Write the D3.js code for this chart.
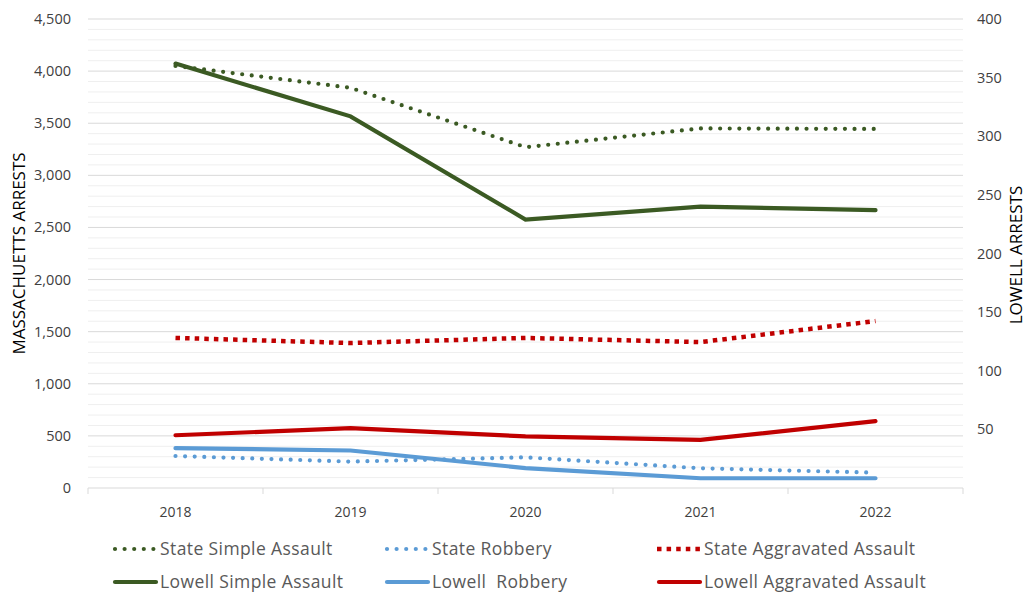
<!DOCTYPE html>
<html>
<head>
<meta charset="utf-8">
<script src="https://cdn.jsdelivr.net/npm/d3@7"></script>
<style>
  body { margin: 0; background: #fff; }
  text { font-family: "Open Sans", "Liberation Sans", sans-serif; }
</style>
</head>
<body>
<svg id="chart" width="1028" height="596"></svg>
<script>
// Data
var years = ["2018", "2019", "2020", "2021", "2022"];
var stateSimple = [4050, 3840, 3270, 3450, 3445];
var stateRobbery = [307, 253, 294, 189, 147];
var stateAggravated = [1440, 1391, 1440, 1400, 1602];
var lowellSimple = [362, 317, 229, 240, 237];
var lowellRobbery = [34, 32, 17, 8.3, 8.3];
var lowellAggravated = [45, 51, 44, 41, 57];
var leftTicks = [0, 500, 1000, 1500, 2000, 2500, 3000, 3500, 4000, 4500];
var rightTicks = [50, 100, 150, 200, 250, 300, 350, 400];

var svg = d3.select("#chart");
// plot area edges (note: "top" is reserved on window)
var plotLeft = 88, plotRight = 963, plotTop = 19, plotBottom = 488;

var x = d3.scaleBand().domain(years).range([plotLeft, plotRight]);
var yL = d3.scaleLinear().domain([0, 4500]).range([plotBottom, plotTop]);
var yR = d3.scaleLinear().domain([0, 400]).range([plotBottom, plotTop]);

// gridlines, minor every 100 and major every 500
var grid = svg.append("g");
grid.selectAll("line")
    .data(d3.range(100, 4501, 100))
    .enter()
    .append("line")
    .attr("x1", plotLeft)
    .attr("x2", plotRight)
    .attr("y1", function (d) { return yL(d); })
    .attr("y2", function (d) { return yL(d); })
    .attr("stroke", function (d) { return d % 500 === 0 ? "#d9d9d9" : "#efefef"; })
    .attr("stroke-width", 1);

// bottom axis
var xAxis = svg.append("g").attr("transform", "translate(0," + plotBottom + ")");
xAxis.append("line").attr("x1", plotLeft).attr("x2", plotRight).attr("stroke", "#d9d9d9");
xAxis.selectAll("line.tick")
    .data(d3.range(years.length + 1))
    .enter()
    .append("line")
    .attr("class", "tick")
    .attr("x1", function (i) { return plotLeft + i * x.step(); })
    .attr("x2", function (i) { return plotLeft + i * x.step(); })
    .attr("y1", 0)
    .attr("y2", 6)
    .attr("stroke", "#d9d9d9");
xAxis.selectAll("text")
    .data(years)
    .enter()
    .append("text")
    .attr("x", function (d) { return x(d) + x.bandwidth() / 2; })
    .attr("y", 29)
    .attr("text-anchor", "middle")
    .attr("font-size", 14)
    .attr("fill", "#404040")
    .text(function (d) { return d; });

// left axis labels
svg.append("g").selectAll("text")
    .data(leftTicks)
    .enter()
    .append("text")
    .attr("x", 71)
    .attr("y", function (d) { return yL(d) + 5; })
    .attr("text-anchor", "end")
    .attr("font-size", 14.5)
    .attr("fill", "#404040")
    .text(function (d) { return d3.format(",")(d); });

// right axis labels
svg.append("g").selectAll("text")
    .data(rightTicks)
    .enter()
    .append("text")
    .attr("x", 977)
    .attr("y", function (d) { return yR(d) + 5; })
    .attr("text-anchor", "start")
    .attr("font-size", 14.5)
    .attr("fill", "#404040")
    .text(function (d) { return d; });

// axis titles
svg.append("text")
    .attr("transform", "translate(25," + (plotTop + plotBottom) / 2 + ") rotate(-90)")
    .attr("text-anchor", "middle")
    .attr("font-size", 17)
    .attr("fill", "#000")
    .text("MASSACHUETTS ARRESTS");
svg.append("text")
    .attr("transform", "translate(1022,255) rotate(-90)")
    .attr("text-anchor", "middle")
    .attr("font-size", 17)
    .attr("fill", "#000")
    .text("LOWELL ARRESTS");

var green = "#3b5a23", blue = "#5b9bd5", red = "#c00000";

var series = [
    { name: "State Simple Assault", values: stateSimple, scale: yL, color: green, style: "dot" },
    { name: "State Robbery", values: stateRobbery, scale: yL, color: blue, style: "dot" },
    { name: "State Aggravated Assault", values: stateAggravated, scale: yL, color: red, style: "square" },
    { name: "Lowell Simple Assault", values: lowellSimple, scale: yR, color: green, style: "solid" },
    { name: "Lowell  Robbery", values: lowellRobbery, scale: yR, color: blue, style: "solid" },
    { name: "Lowell Aggravated Assault", values: lowellAggravated, scale: yR, color: red, style: "solid" }
];

function styleLine(sel, s) {
    sel.attr("fill", "none").attr("stroke", s.color);
    if (s.style === "dot") {
        sel.attr("stroke-width", 4.2).attr("stroke-dasharray", "0,9.6").attr("stroke-linecap", "round");
    } else if (s.style === "square") {
        sel.attr("stroke-width", 4.5).attr("stroke-dasharray", "4.5,5.1").attr("stroke-linecap", "butt");
    } else {
        sel.attr("stroke-width", 4.2).attr("stroke-linecap", "round");
    }
}

// draw order: solid lines first, dotted on top
var drawOrder = [3, 4, 5, 0, 1, 2];
drawOrder.forEach(function (k) {
    var s = series[k];
    var line = d3.line()
        .x(function (d, i) { return x(years[i]) + x.bandwidth() / 2; })
        .y(function (d) { return s.scale(d); });
    svg.append("path")
        .datum(s.values)
        .attr("d", line)
        .call(styleLine, s);
});

// legend
var legendCols = [113, 385, 657];
var legendRows = [549, 582];
var legend = svg.append("g").selectAll("g")
    .data(series)
    .enter()
    .append("g")
    .attr("transform", function (d, i) {
        return "translate(" + legendCols[i % 3] + "," + legendRows[Math.floor(i / 3)] + ")";
    });
legend.append("line")
    .attr("x1", function (d) { return d.style === "square" ? 0 : 2; })
    .attr("x2", 43)
    .attr("y1", 0)
    .attr("y2", 0)
    .each(function (d) { d3.select(this).call(styleLine, d); });
legend.append("text")
    .attr("x", 47)
    .attr("y", 6)
    .attr("font-size", 17.5)
    .attr("letter-spacing", 0.4)
    .attr("fill", "#595959")
    .style("white-space", "pre")
    .text(function (d) { return d.name; });
</script>
</body>
</html>
